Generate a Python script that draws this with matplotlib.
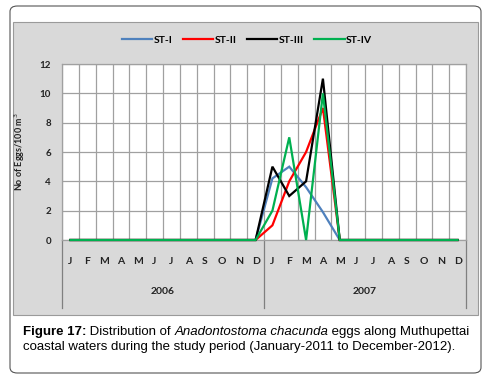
import matplotlib.pyplot as plt
from matplotlib.patches import FancyBboxPatch, Rectangle
from matplotlib import transforms

plt.rcParams["font.family"] = ["Lato", "DejaVu Sans"]

months = ["J", "F", "M", "A", "M", "J", "J", "A", "S", "O", "N", "D"] * 2
years = ["2006", "2007"]

# eggs per 100 m3, Jan-2006 .. Dec-2007
st1 = [0] * 11 + [0, 4.2, 5, 3.6, 1.9, 0] + [0] * 7
st2 = [0] * 11 + [0, 1, 4, 6, 9, 0] + [0] * 7
st3 = [0] * 11 + [0, 5, 3, 4, 11, 0] + [0] * 7
st4 = [0] * 11 + [0, 2, 7, 0, 10, 0] + [0] * 7

series = [("ST-I", st1, "#4f81bd"), ("ST-II", st2, "#ff0000"),
          ("ST-III", st3, "#000000"), ("ST-IV", st4, "#00b050")]

W, H = 491, 374
fig = plt.figure(figsize=(W / 100, H / 100), dpi=100)

# outer rounded frame and grey chart area
fig.patches.append(FancyBboxPatch((10 / W, 1 - 373 / H), 471 / W, 367 / H,
                                  boxstyle="round,pad=0,rounding_size=0.015",
                                  transform=fig.transFigure, fc="white",
                                  ec="#555555", lw=0.8, zorder=-20))
fig.patches.append(Rectangle((13 / W, 1 - 315 / H), 465 / W, 293 / H,
                             transform=fig.transFigure, fc="#d9d9d9",
                             ec="#9a9a9a", lw=0.8, zorder=-10))

x0, x1, y0, y1 = 62, 466, 64, 240
ax = fig.add_axes([x0 / W, 1 - y1 / H, (x1 - x0) / W, (y1 - y0) / H])
ax.set_facecolor("white")

x = list(range(24))
for name, vals, col in series:
    ax.plot(x, vals, color=col, lw=1.6, label=name, solid_joinstyle="miter",
            zorder=3, clip_on=False)

ax.set_xlim(-0.5, 23.5)
ax.set_ylim(0, 12)
ax.set_yticks(range(0, 13, 2))
ax.set_xticks([i + 0.5 for i in range(-1, 24)], minor=True)
ax.set_xticks(x)
ax.set_xticklabels(months, fontsize=7.5, fontweight="bold", color="#222222")
ax.tick_params(axis="x", which="both", length=0, pad=12)
ax.tick_params(axis="y", length=0, pad=8, labelsize=7)
for lab in ax.get_yticklabels():
    lab.set_fontweight("bold")
    lab.set_color("#222222")
ax.grid(True, axis="y", color="#a0a0a0", lw=0.9)
ax.grid(True, axis="x", which="minor", color="#a0a0a0", lw=0.9)
ax.set_axisbelow(True)
for s in ax.spines.values():
    s.set_color("#a0a0a0")
    s.set_linewidth(0.9)

# year separators and labels under the axis
tr = transforms.blended_transform_factory(ax.transData, ax.transAxes)
drop = -(308 - 240) / (y1 - y0)
for xv in [-0.5, 11.5, 23.5]:
    ax.plot([xv, xv], [0, drop], transform=tr, color="#808080", lw=0.9,
            clip_on=False)
for i, yr in enumerate(years):
    ax.text(5.5 + 12 * i, -(292 - 240) / (y1 - y0), yr, transform=tr,
            ha="center", va="center", fontsize=7.5, fontweight="bold",
            color="#222222")

ax.set_ylabel("No of Eggs/100 m$^3$", fontsize=6.5, fontweight="bold",
              color="#222222")
ax.yaxis.set_label_coords((27 - x0) / (x1 - x0), 0.5)

fig.legend(loc="center", bbox_to_anchor=(247 / W, 1 - 40 / H), ncol=4,
           frameon=False, handlelength=2.9, handletextpad=0.15,
           columnspacing=1.0, prop={"weight": "bold", "size": 7.5})

# caption, pieces laid out one after another
cap = dict(fontsize=9.5, family="Liberation Sans", va="center")
pieces = [("Figure 17:", "bold", "normal"), (" Distribution of ", "normal", "normal"),
          ("Anadontostoma chacunda", "normal", "italic"),
          (" eggs along Muthupettai", "normal", "normal")]
renderer = fig.canvas.get_renderer()
xpos = 23
for txt, wt, st in pieces:
    t = fig.text(xpos / W, 1 - 332 / H, txt, fontweight=wt, style=st, **cap)
    xpos += t.get_window_extent(renderer).width
fig.text(23 / W, 1 - 347 / H,
         "coastal waters during the study period (January-2011 to December-2012).",
         **cap)

fig.savefig("out.png", dpi=100)
